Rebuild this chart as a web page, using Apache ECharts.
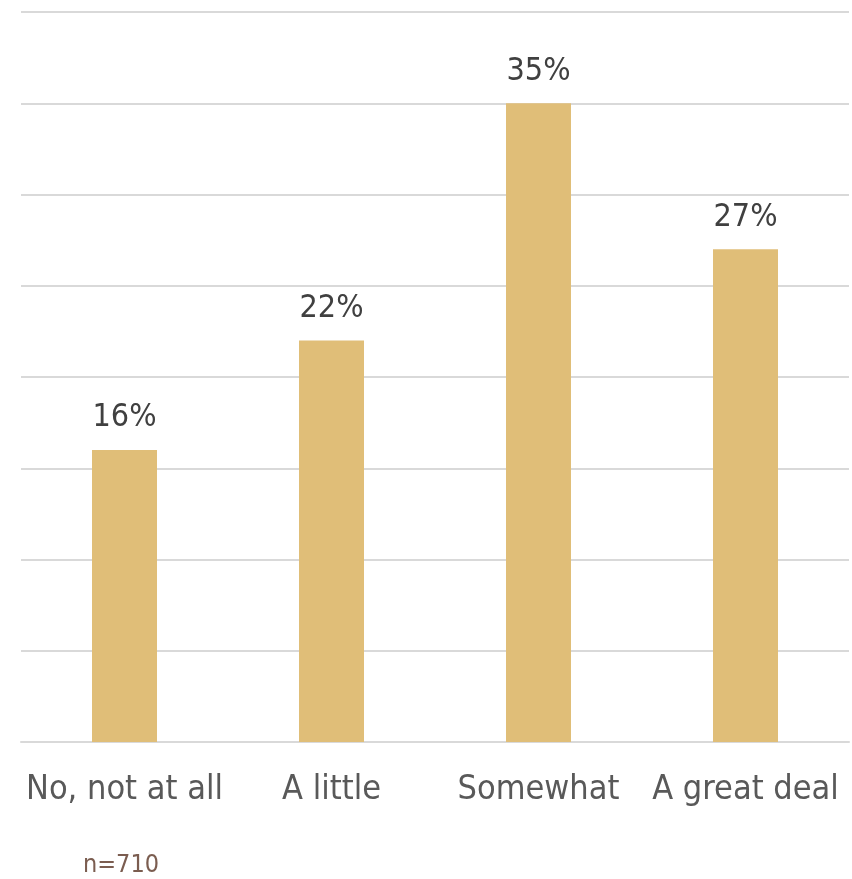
<!DOCTYPE html>
<html>
<head>
<meta charset="utf-8">
<style>
  html, body { margin: 0; padding: 0; background: #ffffff; }
  #chart { width: 852px; height: 879px; }
</style>
<script src="https://cdn.jsdelivr.net/npm/echarts@6/dist/echarts.min.js"></script>
</head>
<body>
<div id="chart"></div>
<script>
// Response categories and share of respondents (%)
const categories = ['No, not at all', 'A little', 'Somewhat', 'A great deal'];
const shares = [16, 22, 35, 27];
const sampleNote = 'n=710';

const FONT = '"DejaVu Sans Condensed", "Liberation Sans Narrow", "Open Sans", sans-serif';

const chart = echarts.init(document.getElementById('chart'), null, { renderer: 'canvas' });
chart.setOption({
  animation: false,
  backgroundColor: '#ffffff',
  grid: { left: 21, right: 3, top: 12, bottom: 137, containLabel: false },
  xAxis: {
    type: 'category',
    data: categories,
    axisLine: { show: true, lineStyle: { color: '#d9d9d9', width: 2 } },
    axisTick: { show: false },
    axisLabel: { interval: 0, hideOverlap: false, color: '#595959', fontSize: 34, fontFamily: FONT, margin: 31 }
  },
  yAxis: {
    type: 'value',
    min: 0, max: 40, interval: 5,
    axisLine: { show: false },
    axisTick: { show: false },
    axisLabel: { show: false },
    splitLine: { lineStyle: { color: '#d9d9d9', width: 2 } }
  },
  series: [{
    type: 'bar',
    data: shares,
    barWidth: '31.4%',
    itemStyle: { color: '#e0be78' },
    label: {
      show: true, position: 'top', distance: 16,
      formatter: '{c}%', color: '#404040', fontSize: 32, fontFamily: FONT
    }
  }],
  graphic: [{
    type: 'text', left: 83, top: 853,
    style: { text: sampleNote, fill: '#7b5d50', fontSize: 25, fontFamily: FONT }
  }]
});
</script>
</body>
</html>
